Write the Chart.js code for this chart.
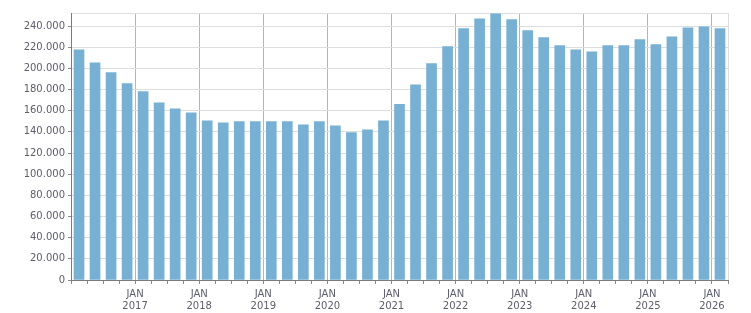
<!DOCTYPE html>
<html>
<head>
<meta charset="utf-8">
<script src="https://cdn.jsdelivr.net/npm/chart.js@4"></script>
<style>
  html, body { margin: 0; padding: 0; background: #fff; }
  #wrap { width: 751px; height: 313px; }
</style>
</head>
<body>
<div id="wrap"><canvas id="grafica" width="751" height="313"></canvas></div>
<script>
// Datos (trimestrales, 2016 T1 - 2026 T1)
const trimestres = [
  "2016 Q1", "2016 Q2", "2016 Q3", "2016 Q4",
  "2017 Q1", "2017 Q2", "2017 Q3", "2017 Q4",
  "2018 Q1", "2018 Q2", "2018 Q3", "2018 Q4",
  "2019 Q1", "2019 Q2", "2019 Q3", "2019 Q4",
  "2020 Q1", "2020 Q2", "2020 Q3", "2020 Q4",
  "2021 Q1", "2021 Q2", "2021 Q3", "2021 Q4",
  "2022 Q1", "2022 Q2", "2022 Q3", "2022 Q4",
  "2023 Q1", "2023 Q2", "2023 Q3", "2023 Q4",
  "2024 Q1", "2024 Q2", "2024 Q3", "2024 Q4",
  "2025 Q1", "2025 Q2", "2025 Q3", "2025 Q4",
  "2026 Q1"
];

const valores = [
  217600, 205300, 195900, 185500,
  178000, 167500, 161800, 158000,
  150500, 148600, 149600, 149600,
  149600, 149600, 146700, 149600,
  145800, 139200, 142000, 150500,
  166000, 184500, 204400, 220500,
  237500, 246900, 251600, 246000,
  235600, 229000, 221500, 217600,
  215700, 221500, 221500, 227100,
  222400, 229900, 238400, 239300,
  237500
];

// marcas del eje Y
const ticksY = [0, 20000, 40000, 60000, 80000, 100000, 120000,
  140000, 160000, 180000, 200000, 220000, 240000];
const topeY = 252300;

const etiquetaMes = "JAN";

// posición de cada trimestre en años (mitad del trimestre)
const posX = trimestres.map(t => {
  const partes = t.split(" Q");
  return Number(partes[0]) + (Number(partes[1]) - 1) / 4 + 0.125;
});

const puntos = valores.map((v, i) => ({ x: posX[i], y: v }));

function miles(v) {
  return String(v).replace(/\B(?=(\d{3})+(?!\d))/g, ".");
}

const textoColor = "#5d5d6c";
const fuente = { family: "DejaVu Sans", size: 10 };

new Chart(document.getElementById("grafica"), {
  type: "bar",
  data: {
    datasets: [{
      data: puntos,
      backgroundColor: "#77b0d3",
      borderWidth: 0,
      barThickness: 10
    }]
  },
  options: {
    responsive: false,
    animation: false,
    layout: { padding: { top: 13, right: 23, left: 0, bottom: 0 } },
    plugins: { legend: { display: false }, tooltip: { enabled: false } },
    scales: {
      x: {
        type: "linear",
        min: 2016,
        max: 2026.25,
        offset: false,
        afterFit: s => { s.height = 33; },
        ticks: {
          stepSize: 0.25,
          maxTicksLimit: 100,
          autoSkip: false,
          maxRotation: 0,
          padding: 4,
          color: textoColor,
          font: fuente,
          callback: v => (Number.isInteger(v) && v > 2016) ? [etiquetaMes, String(v)] : ""
        },
        grid: {
          offset: false,
          tickLength: 4,
          color: c => {
            const v = c.tick && c.tick.value;
            if (v === 2026.25) return "#dddddd";
            if (Number.isInteger(v) && v > 2016) return "#b5b5b5";
            return "rgba(0,0,0,0)";
          },
          tickColor: "#8a8a8a"
        },
        border: { color: "#7a7a7a", width: 1 }
      },
      y: {
        min: 0,
        max: topeY,
        afterFit: s => { s.width = 71; },
        afterBuildTicks: s => {
          s.ticks = ticksY.concat([topeY]).map(v => ({ value: v }));
        },
        ticks: {
          autoSkip: false,
          padding: 3,
          color: textoColor,
          font: fuente,
          callback: v => (v === topeY) ? "" : miles(v)
        },
        grid: {
          tickLength: 3,
          color: "#dddddd",
          tickColor: c => (c.tick && c.tick.value === topeY) ? "rgba(0,0,0,0)" : "#8a8a8a"
        },
        border: { color: "#7a7a7a", width: 1 }
      }
    }
  }
});
</script>
</body>
</html>
